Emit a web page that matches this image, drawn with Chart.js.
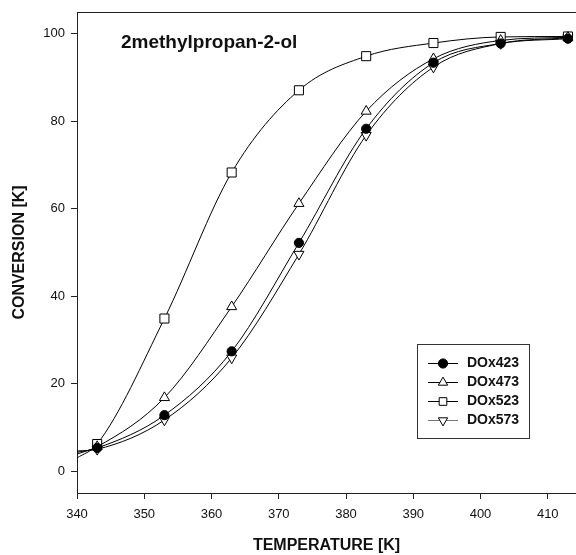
<!DOCTYPE html>
<html>
<head>
<meta charset="utf-8">
<script src="https://cdn.jsdelivr.net/npm/chart.js@4"></script>
<style>
  html, body { margin: 0; padding: 0; background: #fff; }
  canvas { display: block; }
</style>
</head>
<body>
<canvas id="conv-chart" width="576" height="555"></canvas>
<script>
// temperatures [K]; first entry is where the fitted curves start at the axis
var temps = [340, 343, 353, 363, 373, 383, 393, 403, 413]
var dox423 = [4.3, 5.3, 12.8, 27.4, 52.2, 78.3, 93.4, 97.8, 98.9]
var dox473 = [3.9, 5.6, 16.8, 37.6, 61.2, 82.3, 94.3, 98.5, 99.2]
var dox523 = [3.0, 6.2, 34.9, 68.3, 87.1, 94.9, 97.9, 99.3, 99.4]
var dox573 = [4.6, 5.0, 11.7, 25.9, 49.6, 76.8, 92.4, 97.8, 99.1]
var xTicks = [340, 350, 360, 370, 380, 390, 400, 410]
var yTicks = [0, 20, 40, 60, 80, 100]

var font = "'Liberation Sans', Arial, sans-serif"

function pts(vals) {
  return temps.map(function (t, i) { return { x: t, y: vals[i] } })
}

function series(label, vals, style, rot, fill, r) {
  return {
    label: label,
    data: pts(vals),
    borderColor: '#000',
    borderWidth: 1,
    backgroundColor: fill,
    pointStyle: style,
    rotation: rot,
    pointBorderColor: '#000',
    pointBackgroundColor: fill,
    pointBorderWidth: 1,
    pointRadius: function (ctx) { return ctx.dataIndex === 0 ? 0 : r },
    cubicInterpolationMode: 'monotone',
    fill: false
  }
}

var sets = [
  series('DOx423', dox423, 'circle', 0, '#000', 4.6),
  series('DOx473', dox473, 'triangle', 0, '#fff', 5.8),
  series('DOx523', dox523, 'rect', 0, '#fff', 6.4),
  series('DOx573', dox573, 'triangle', 180, '#fff', 5.8)
]

var extras = {
  id: 'extras',
  afterDraw: function (chart) {
    var ctx = chart.ctx
    var a = chart.chartArea
    ctx.save()
    // top frame line
    ctx.strokeStyle = '#222'
    ctx.lineWidth = 1
    ctx.beginPath()
    ctx.moveTo(a.left, a.top + 0.5)
    ctx.lineTo(a.right, a.top + 0.5)
    ctx.stroke()

    // title inside the plot
    ctx.fillStyle = '#111'
    ctx.font = 'bold 19px ' + font
    ctx.textBaseline = 'alphabetic'
    ctx.textAlign = 'left'
    ctx.fillText('2methylpropan-2-ol', 121, 48)

    // legend box
    ctx.strokeStyle = '#333'
    ctx.strokeRect(417.5, 344.5, 112, 94)
    ctx.font = 'bold 14px ' + font
    ctx.textBaseline = 'middle'
    chart.data.datasets.forEach(function (ds, i) {
      var y = 363 + i * 19
      ctx.strokeStyle = i === 3 ? '#777' : '#000'
      ctx.beginPath()
      ctx.moveTo(428, y + 0.5)
      ctx.lineTo(458, y + 0.5)
      ctx.stroke()
      ctx.strokeStyle = '#000'
      ctx.fillStyle = ds.pointBackgroundColor
      Chart.helpers.drawPoint(ctx, {
        pointStyle: ds.pointStyle,
        rotation: ds.rotation,
        radius: ds.pointStyle === 'circle' ? 4.6 : 5.4,
        borderWidth: 1
      }, 443, y + 0.5)
      ctx.fillStyle = '#111'
      ctx.fillText(ds.label, 467, y)
    })
    ctx.restore()
  }
}

var chart = new Chart(document.getElementById('conv-chart'), {
  type: 'line',
  data: { datasets: sets },
  plugins: [extras],
  options: {
    responsive: false,
    animation: false,
    devicePixelRatio: 1,
    layout: { autoPadding: false, padding: { top: 12, right: 0, bottom: 0, left: 0 } },
    plugins: { legend: { display: false }, tooltip: { enabled: false } },
    scales: {
      x: {
        type: 'linear',
        min: 340,
        max: 414.2,
        afterBuildTicks: function (s) {
          s.ticks = xTicks.map(function (v) { return { value: v } })
        },
        afterFit: function (s) {
          s.height = 62
          s.paddingLeft = 0
          s.paddingRight = 0
        },
        grid: { drawOnChartArea: false, tickLength: 6, color: '#222' },
        border: { color: '#222', width: 1 },
        ticks: { padding: 8, color: '#111', font: { family: font, size: 13 } },
        title: {
          display: true,
          text: 'TEMPERATURE [K]',
          color: '#111',
          padding: { top: 0, bottom: 0 },
          font: { family: font, size: 16, weight: 'bold' }
        }
      },
      y: {
        min: -5,
        max: 105,
        afterBuildTicks: function (s) {
          s.ticks = yTicks.map(function (v) { return { value: v } })
        },
        afterFit: function (s) {
          s.width = 77
          s.paddingTop = 0
          s.paddingBottom = 0
        },
        grid: { drawOnChartArea: false, tickLength: 6, color: '#222' },
        border: { color: '#222', width: 1 },
        ticks: { padding: 6, color: '#111', font: { family: font, size: 13 } },
        title: {
          display: true,
          text: 'CONVERSION [K]',
          color: '#111',
          padding: { top: 10, bottom: 0 },
          font: { family: font, size: 16, weight: 'bold' }
        }
      }
    }
  }
})
</script>
</body>
</html>
